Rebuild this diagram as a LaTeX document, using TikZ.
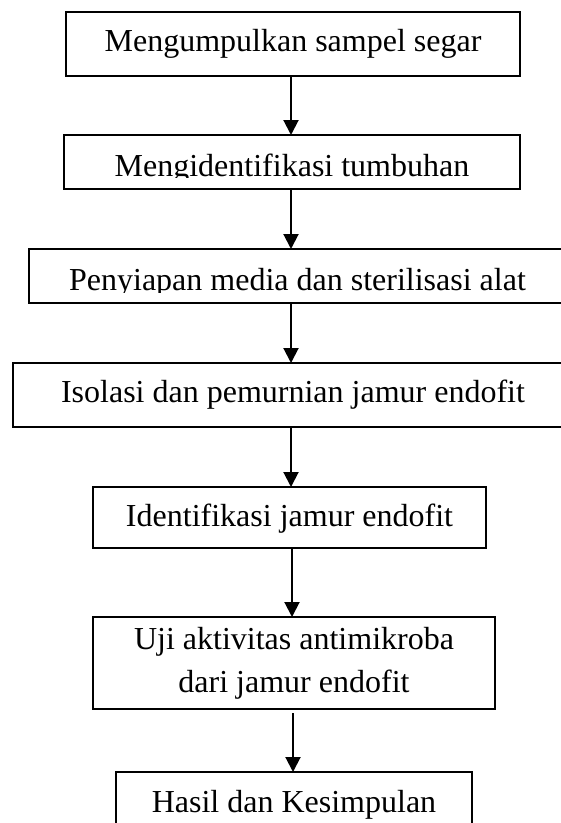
\documentclass[tikz,border=0pt]{standalone}
\usepackage{fontspec}
\setmainfont{Liberation Serif}
\usetikzlibrary{arrows.meta,calc}
\tikzset{
  stepbox/.style={draw=black, line width=1.6pt, rectangle, inner sep=0pt, outer sep=0pt,
    font=\fontsize{32}{43}\selectfont, text height=22pt, text depth=7pt, align=center},
  flowarr/.style={line width=2pt, -{Triangle[length=15pt,width=15pt]}},
  eraser/.style={fill=white, draw=none}
}
\begin{document}
\begin{tikzpicture}[x=1pt,y=-1pt]
\clip (0,0) rectangle (561,823);
\fill[white] (0,0) rectangle (561,823);
\node[stepbox, minimum width=454pt, minimum height=64pt] (b1) at (293,44) {Mengumpulkan sampel segar};
\node[stepbox, minimum width=456pt, minimum height=54pt, text height=35pt] (b2) at (292,162) {Mengidentifikasi tumbuhan};
\node[stepbox, minimum width=537pt, minimum height=54pt, text height=35pt] (b3) at (297.5,276) {Penyiapan media dan sterilisasi alat};
\node[stepbox, minimum width=560pt, minimum height=64pt] (b4) at (293,395) {Isolasi dan pemurnian jamur endofit};
\node[stepbox, minimum width=393pt, minimum height=61pt, text height=24pt] (b5) at (289.5,517.5) {Identifikasi jamur endofit};
\node[stepbox, minimum width=402pt, minimum height=92pt, text height=, text depth=] (b6) at (294,663) {Uji aktivitas antimikroba\\dari jamur endofit};
\node[stepbox, minimum width=356pt, minimum height=65pt] (b7) at (294,804.5) {Hasil dan Kesimpulan};
% text clipped at the bottom of boxes 2 and 3
\path[eraser] ([shift={(1,-11)}]b2.south west) rectangle ([shift={(-1,-0.85)}]b2.south east);
\path[eraser] ([shift={(1,-10)}]b3.south west) rectangle ([shift={(-1,-0.85)}]b3.south east);
% arrows
\coordinate (a1) at (291,0);
\coordinate (a5) at (292,0);
\coordinate (a6) at (293,0);
\draw[flowarr] (b1.south -| a1) -- (b2.north -| a1);
\draw[flowarr] (b2.south -| a1) -- (b3.north -| a1);
\draw[flowarr] (b3.south -| a1) -- (b4.north -| a1);
\draw[flowarr] (b4.south -| a1) -- (b5.north -| a1);
\draw[flowarr] (b5.south -| a5) -- (b6.north -| a5);
\draw[flowarr, shorten <=4pt] (b6.south -| a6) -- (b7.north -| a6);
\end{tikzpicture}
\end{document}
